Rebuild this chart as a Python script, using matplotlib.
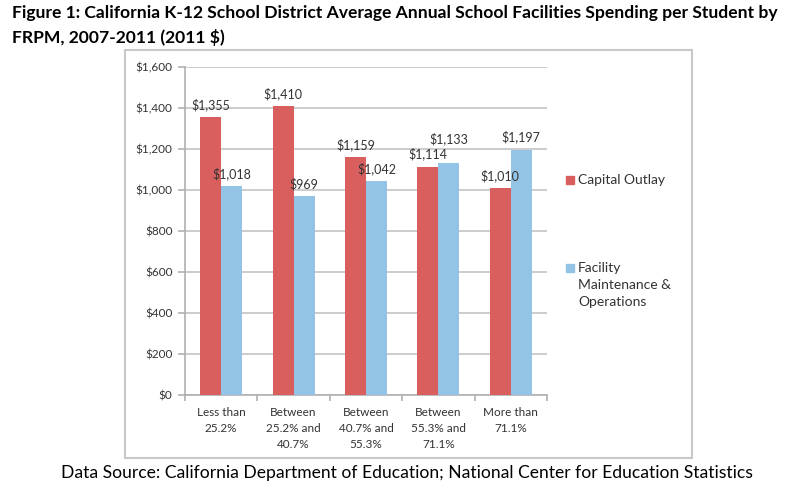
import matplotlib.pyplot as plt
from matplotlib.patches import Rectangle
import numpy as np

categories = ["Less than\n25.2%", "Between\n25.2% and\n40.7%", "Between\n40.7% and\n55.3%",
              "Between\n55.3% and\n71.1%", "More than\n71.1%"]
capital = [1355, 1410, 1159, 1114, 1010]
maint = [1018, 969, 1042, 1133, 1197]
yticks = [0, 200, 400, 600, 800, 1000, 1200, 1400, 1600]

red = "#D95F5E"
blue = "#93C4E6"
txt = "#333333"
plt.rcParams['font.family'] = ['Lato', 'DejaVu Sans']

W, H = 788, 496
fig = plt.figure(figsize=(W / 100, H / 100), dpi=100)

# chart frame
fig.patches.append(Rectangle((125 / W, 1 - 458 / H), (692 - 125) / W, (458 - 50) / H,
                             transform=fig.transFigure, fill=False, ec="#C8C8C8", lw=1.5))

ax = fig.add_axes([185 / W, 1 - 395 / H, (547 - 185) / W, (395 - 67) / H])
x = np.arange(len(categories))
bw = 0.29
ax.bar(x - bw / 2, capital, bw, color=red, label="Capital Outlay", zorder=3)
ax.bar(x + bw / 2, maint, bw, color=blue, label="Facility\nMaintenance &\nOperations", zorder=3)

for i in range(len(x)):
    ax.text(x[i] - bw / 2, capital[i] + 30, "${:,}".format(capital[i]), ha="center", va="bottom",
            fontsize=9, color=txt)
    # lift the blue label when it would run into the red one
    lift = 55 if abs(maint[i] - capital[i]) < 80 and maint[i] > capital[i] else 0
    ax.text(x[i] + bw / 2, maint[i] + 30 + lift, "${:,}".format(maint[i]), ha="center", va="bottom",
            fontsize=9, color=txt)

ax.set_xlim(-0.5, len(x) - 0.5)
ax.set_ylim(0, 1600)
ax.set_yticks(yticks)
ax.set_yticklabels(["${:,}".format(v) for v in yticks], fontsize=8.5, color=txt)
ax.yaxis.grid(True, color="#C8C8C8", lw=1.3, zorder=0)
ax.set_xticks(x)
ax.set_xticklabels(categories, fontsize=8.5, color=txt, linespacing=1.5)
ax.set_xticks(np.arange(-0.5, len(x), 1), minor=True)
ax.tick_params(axis="x", which="major", length=0, pad=9)
ax.tick_params(axis="x", which="minor", length=4, color="#B0B0B0", width=1.2)
ax.tick_params(axis="y", length=5, color="#B0B0B0", width=1.2, pad=4)
for s in ["top", "right"]:
    ax.spines[s].set_visible(False)
ax.spines["left"].set_color("#B0B0B0")
ax.spines["bottom"].set_color("#B0B0B0")
ax.spines["left"].set_linewidth(1.2)
ax.spines["bottom"].set_linewidth(1.2)

# legend
fig.patches.append(Rectangle((566 / W, 1 - 184 / H), 8 / W, 8 / H, transform=fig.transFigure,
                             color=red))
fig.text(578 / W, 1 - 180 / H, "Capital Outlay", fontsize=10, color=txt, va="center")
fig.patches.append(Rectangle((566 / W, 1 - 272 / H), 8 / W, 8 / H, transform=fig.transFigure,
                             color=blue))
fig.text(578 / W, 1 - 262 / H, "Facility\nMaintenance &\nOperations", fontsize=10, color=txt,
         va="top", linespacing=1.5)

fig.text(12 / W, 1 - 5 / H, "Figure 1: California K-12 School District Average Annual School Facilities Spending per Student by\nFRPM, 2007-2011 (2011 $)",
         fontsize=12.6, fontweight="bold", va="top", linespacing=1.55, color="black")
fig.text(407 / W, 1 - 473 / H, "Data Source: California Department of Education; National Center for Education Statistics",
         fontsize=12.6, ha="center", va="center", color="black")

fig.savefig("out.png", dpi=100)
